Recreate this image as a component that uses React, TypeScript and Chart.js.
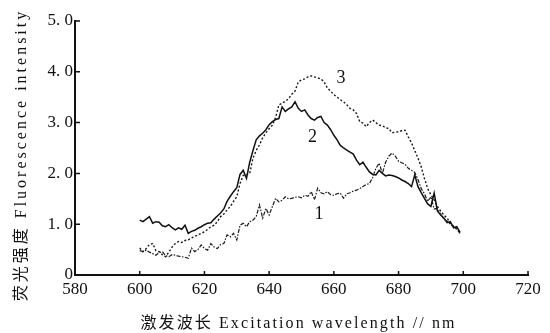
import React, { useEffect, useRef } from 'react';
import { Chart, registerables } from 'chart.js';

Chart.register(...registerables);

// Excitation wavelength grid (nm), one sample per nanometre
const wavelengths: number[] = Array.from({ length: 100 }, (_, i) => 600 + i);

// Fluorescence intensity of the three samples
const curve1: number[] = [
  0.48, 0.46, 0.49, 0.45, 0.42, 0.39, 0.44, 0.46, 0.38, 0.36,
  0.40, 0.39, 0.37, 0.36, 0.35, 0.33, 0.53, 0.46, 0.50, 0.59,
  0.52, 0.49, 0.62, 0.55, 0.52, 0.60, 0.62, 0.79, 0.75, 0.82,
  0.69, 0.98, 1.02, 0.95, 1.05, 1.08, 1.15, 1.38, 1.12, 1.31,
  1.18, 1.35, 1.51, 1.44, 1.47, 1.54, 1.50, 1.51, 1.53, 1.54,
  1.52, 1.57, 1.55, 1.64, 1.48, 1.71, 1.62, 1.60, 1.64, 1.58,
  1.57, 1.60, 1.61, 1.51, 1.60, 1.62, 1.65, 1.67, 1.70, 1.74,
  1.78, 1.80, 1.92, 2.10, 2.20, 2.00, 2.22, 2.34, 2.40, 2.34,
  2.24, 2.21, 2.18, 2.10, 2.06, 2.02, 1.88, 1.70, 1.60, 1.45,
  1.54, 1.30, 1.31, 1.20, 1.10, 1.06, 1.00, 0.95, 0.90, 0.82,
];

const curve2: number[] = [
  1.08, 1.05, 1.10, 1.15, 1.02, 1.05, 1.04, 0.97, 0.95, 0.99,
  0.93, 0.89, 0.93, 0.90, 0.98, 0.82, 0.86, 0.88, 0.92, 0.95,
  0.99, 1.02, 1.03, 1.10, 1.16, 1.22, 1.30, 1.45, 1.55, 1.64,
  1.72, 1.98, 2.06, 1.90, 2.22, 2.45, 2.66, 2.74, 2.79, 2.86,
  2.96, 3.02, 3.06, 3.08, 3.31, 3.22, 3.27, 3.31, 3.41, 3.28,
  3.22, 3.25, 3.15, 3.08, 3.05, 3.10, 3.12, 3.00, 2.95, 2.86,
  2.75, 2.66, 2.55, 2.50, 2.46, 2.42, 2.38, 2.26, 2.17, 2.22,
  2.12, 2.03, 1.98, 1.97, 2.06, 2.00, 1.95, 1.97, 1.96, 1.94,
  1.91, 1.87, 1.84, 1.80, 1.74, 1.97, 1.74, 1.62, 1.51, 1.40,
  1.35, 1.61, 1.26, 1.18, 1.12, 1.03, 1.05, 0.93, 0.95, 0.84,
];

const curve3: number[] = [
  0.53, 0.46, 0.52, 0.60, 0.62, 0.48, 0.46, 0.40, 0.36, 0.45,
  0.55, 0.62, 0.66, 0.64, 0.68, 0.69, 0.73, 0.76, 0.79, 0.82,
  0.85, 0.90, 0.95, 0.98, 1.05, 1.15, 1.20, 1.28, 1.35, 1.45,
  1.54, 1.80, 1.96, 1.97, 2.00, 2.30, 2.45, 2.56, 2.70, 2.80,
  2.88, 2.95, 3.10, 3.35, 3.38, 3.42, 3.47, 3.56, 3.62, 3.80,
  3.84, 3.86, 3.90, 3.92, 3.90, 3.88, 3.86, 3.80, 3.68, 3.62,
  3.55, 3.50, 3.45, 3.41, 3.35, 3.28, 3.25, 3.18, 3.02, 2.99,
  2.92, 3.00, 3.05, 3.00, 2.95, 2.94, 2.90, 2.88, 2.80, 2.81,
  2.82, 2.84, 2.85, 2.72, 2.60, 2.45, 2.30, 2.13, 1.90, 1.70,
  1.58, 1.48, 1.35, 1.26, 1.18, 1.12, 1.02, 0.96, 0.90, 0.85,
];

// Curve numbers placed next to each trace (data coordinates)
const curveNames: string[] = ['1', '2', '3'];
const curveNameX: number[] = [655.4, 653.4, 662.2];
const curveNameY: number[] = [1.19, 2.71, 3.87];

const xTitle = '激发波长 Excitation wavelength // nm';
const yTitle = '荧光强度 Fluorescence intensity';

const SERIF = '"Liberation Serif", "Noto Sans CJK SC", serif';

const toPoints = (values: number[]) => values.map((v, i) => ({ x: wavelengths[i], y: v }));

const annotations = {
  id: 'annotations',
  afterDraw(chart: any) {
    const { ctx, chartArea, scales } = chart;
    const xs = scales.x;
    const ys = scales.y;
    ctx.save();

    // inward tick marks
    ctx.strokeStyle = '#111';
    ctx.lineWidth = 1.5;
    ctx.beginPath();
    xs.ticks.forEach((t: any) => {
      const px = xs.getPixelForValue(t.value);
      if (px <= chartArea.left + 1) return;
      ctx.moveTo(px, chartArea.bottom);
      ctx.lineTo(px, chartArea.bottom - 4);
    });
    ys.ticks.forEach((t: any) => {
      if (t.value === 0) return;
      const py = ys.getPixelForValue(t.value);
      ctx.moveTo(chartArea.left, py);
      ctx.lineTo(chartArea.left + 5, py);
    });
    ctx.stroke();

    // curve numbers
    ctx.fillStyle = '#111';
    ctx.font = `18px ${SERIF}`;
    ctx.textAlign = 'center';
    ctx.textBaseline = 'middle';
    curveNames.forEach((name, i) => {
      ctx.fillText(name, xs.getPixelForValue(curveNameX[i]), ys.getPixelForValue(curveNameY[i]));
    });

    // axis titles
    ctx.font = `16px ${SERIF}`;
    (ctx as any).letterSpacing = '2.1px';
    ctx.fillText(xTitle, (chartArea.left + chartArea.right) / 2 - 3, 324);

    ctx.translate(22, (chartArea.top + chartArea.bottom) / 2 + 7);
    ctx.rotate(-Math.PI / 2);
    (ctx as any).letterSpacing = '3px';
    ctx.fillText(yTitle, 0, 0);

    ctx.restore();
  },
};

export default function App() {
  const canvasRef = useRef<HTMLCanvasElement | null>(null);

  useEffect(() => {
    const canvas = canvasRef.current;
    if (!canvas) return;
    const chart = new Chart(canvas, {
      type: 'line',
      data: {
        datasets: [
          {
            label: '1',
            data: toPoints(curve1),
            borderColor: '#1a1a1a',
            borderWidth: 1.2,
            borderDash: [4, 1.5, 1.5, 1.5],
            pointRadius: 0,
            tension: 0,
          },
          {
            label: '2',
            data: toPoints(curve2),
            borderColor: '#111',
            borderWidth: 1.5,
            pointRadius: 0,
            tension: 0,
          },
          {
            label: '3',
            data: toPoints(curve3),
            borderColor: '#1a1a1a',
            borderWidth: 1.4,
            borderDash: [2, 2],
            pointRadius: 0,
            tension: 0,
          },
        ],
      },
      options: {
        responsive: false,
        animation: false,
        events: [],
        layout: { padding: { left: 0, top: 21, right: 22, bottom: 0 } },
        plugins: { legend: { display: false }, tooltip: { enabled: false } },
        scales: {
          x: {
            type: 'linear',
            min: 580,
            max: 720,
            grid: { display: false, drawTicks: false },
            border: { display: true, color: '#111', width: 2 },
            ticks: {
              stepSize: 20,
              padding: 4,
              color: '#111',
              font: { family: SERIF, size: 17 },
              maxRotation: 0,
            },
            afterFit(scale: any) {
              scale.height = 58;
            },
          },
          y: {
            type: 'linear',
            min: 0,
            max: 5,
            grid: { display: false, drawTicks: false },
            border: { display: true, color: '#111', width: 2 },
            ticks: {
              stepSize: 1,
              padding: 2,
              color: '#111',
              font: { family: SERIF, size: 17 },
              callback: (v: any) => (Number(v) === 0 ? '0' : Number(v).toFixed(1).replace('.', '. ')),
            },
            afterFit(scale: any) {
              scale.width = 75;
            },
          },
        },
      },
      plugins: [annotations],
    });
    return () => chart.destroy();
  }, []);

  return (
    <div style={{ position: 'fixed', left: 0, top: 0, width: 550, height: 333, background: '#fff' }}>
      <canvas ref={canvasRef} width={550} height={333} style={{ display: 'block' }} />
    </div>
  );
}
